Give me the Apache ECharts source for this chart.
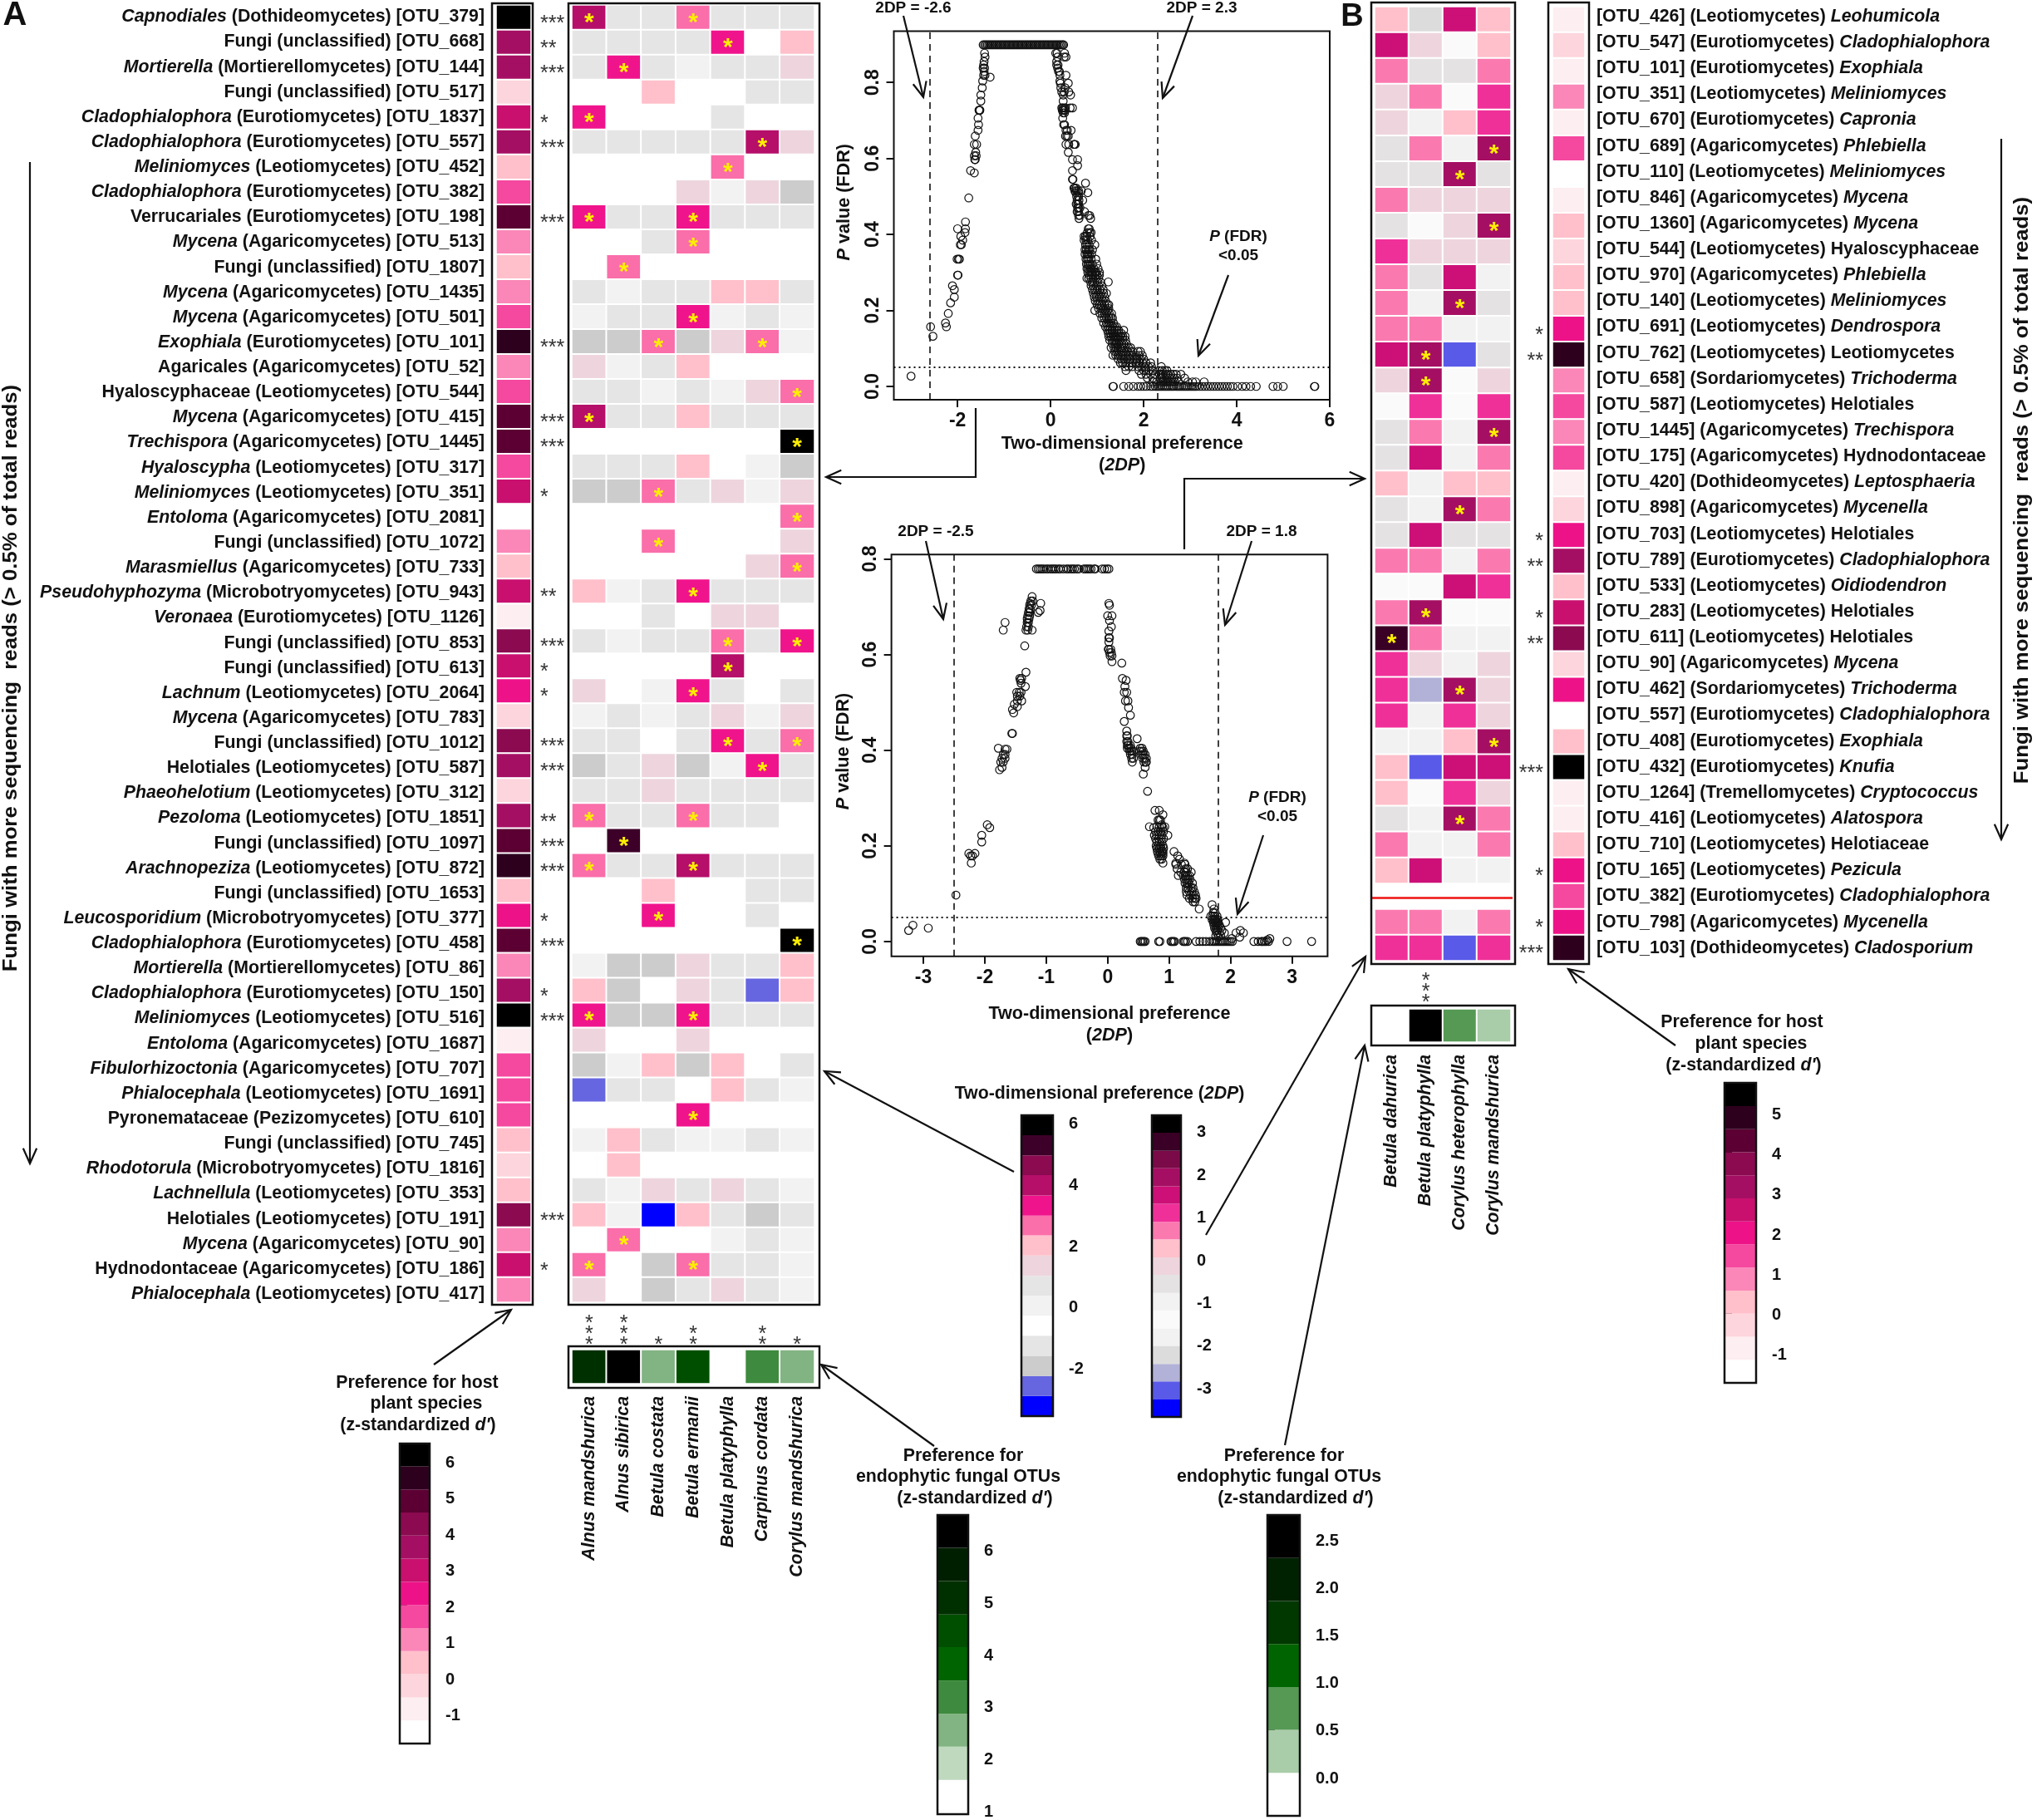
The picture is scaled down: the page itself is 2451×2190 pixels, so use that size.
<!DOCTYPE html>
<html>
<head>
<meta charset="utf-8">
<script src="https://cdn.jsdelivr.net/npm/echarts@6/dist/echarts.min.js"></script>
<style>html,body{margin:0;background:#fff}#chart{width:2451px;height:2190px}</style>
</head>
<body>
<div id="chart"></div>
<script>
// panel A: taxon, class, OTU, is the taxon italic, d' of the OTU, stars of d'
const taxaA = ['Capnodiales','Fungi','Mortierella','Fungi','Cladophialophora','Cladophialophora','Meliniomyces','Cladophialophora','Verrucariales','Mycena','Fungi','Mycena','Mycena','Exophiala','Agaricales','Hyaloscyphaceae','Mycena','Trechispora','Hyaloscypha','Meliniomyces','Entoloma','Fungi','Marasmiellus','Pseudohyphozyma','Veronaea','Fungi','Fungi','Lachnum','Mycena','Fungi','Helotiales','Phaeohelotium','Pezoloma','Fungi','Arachnopeziza','Fungi','Leucosporidium','Cladophialophora','Mortierella','Cladophialophora','Meliniomyces','Entoloma','Fibulorhizoctonia','Phialocephala','Pyronemataceae','Fungi','Rhodotorula','Lachnellula','Helotiales','Mycena','Hydnodontaceae','Phialocephala'];
const classA = ['Dothideomycetes','unclassified','Mortierellomycetes','unclassified','Eurotiomycetes','Eurotiomycetes','Leotiomycetes','Eurotiomycetes','Eurotiomycetes','Agaricomycetes','unclassified','Agaricomycetes','Agaricomycetes','Eurotiomycetes','Agaricomycetes','Leotiomycetes','Agaricomycetes','Agaricomycetes','Leotiomycetes','Leotiomycetes','Agaricomycetes','unclassified','Agaricomycetes','Microbotryomycetes','Eurotiomycetes','unclassified','unclassified','Leotiomycetes','Agaricomycetes','unclassified','Leotiomycetes','Leotiomycetes','Leotiomycetes','unclassified','Leotiomycetes','unclassified','Microbotryomycetes','Eurotiomycetes','Mortierellomycetes','Eurotiomycetes','Leotiomycetes','Agaricomycetes','Agaricomycetes','Leotiomycetes','Pezizomycetes','unclassified','Microbotryomycetes','Leotiomycetes','Leotiomycetes','Agaricomycetes','Agaricomycetes','Leotiomycetes'];
const otuA = [379,668,144,517,1837,557,452,382,198,513,1807,1435,501,101,52,544,415,1445,317,351,2081,1072,733,943,1126,853,613,2064,783,1012,587,312,1851,1097,872,1653,377,458,86,150,516,1687,707,1691,610,745,1816,353,191,90,186,417];
const italicTaxaA = ['Capnodiales','Mortierella','Cladophialophora','Meliniomyces','Mycena','Exophiala','Trechispora','Hyaloscypha','Entoloma','Marasmiellus','Pseudohyphozyma','Veronaea','Lachnum','Phaeohelotium','Pezoloma','Arachnopeziza','Leucosporidium','Fibulorhizoctonia','Phialocephala','Rhodotorula','Lachnellula'];
const hostA = [6.17,3.61,3.61,-.23,2.97,3.61,.41,1.69,4.89,1.05,.41,1.05,1.69,5.53,1.05,1.69,4.89,4.89,1.69,2.97,-1.5,1.05,.41,2.97,-.87,4.25,2.97,2.33,-.23,4.25,3.61,-.23,3.61,4.89,5.53,.41,2.33,4.89,1.05,3.61,6.17,-.87,1.69,1.69,1.69,.41,-.23,.41,4.25,1.05,2.97,1.05];
const hostStarsA = ['***','**','***','','*','***','','','***','','','','','***','','','***','***','','*','','','','**','','***','*','*','','***','***','','**','***','***','','*','***','','*','***','','','','','','','','***','','*',''];
const plantsA = ['Alnus mandshurica','Alnus sibirica','Betula costata','Betula ermanii','Betula platyphylla','Carpinus cordata','Corylus mandshurica'];
const heatA = [
  [3.9,.65,.65,2.6,.65,.65,.65],[.65,.65,.65,.65,3.3,-.65,2],[.65,3.3,.65,0,.65,.65,1.3],[-.65,-.65,2,-.65,-.65,.65,.65],
  [3.3,-.65,-.65,-.65,.65,-.65,-.65],[.65,.65,.65,.65,.65,3.9,1.3],[-.65,-.65,-.65,-.65,2.6,-.65,-.65],[-.65,-.65,-.65,1.3,0,1.3,-2],
  [3.3,.65,.65,3.3,.65,.65,.65],[-.65,-.65,.65,2.6,-.65,-.65,-.65],[-.65,2.6,-.65,-.65,-.65,-.65,-.65],[.65,0,.65,.65,2,2,.65],
  [0,.65,.65,3.3,0,.65,0],[-2,-2,2.6,-2,1.3,2.6,0],[1.3,0,.65,2,-.65,-.65,-.65],[.65,.65,0,.65,0,1.3,2.6],
  [3.9,.65,.65,2,.65,.65,.65],[-.65,-.65,-.65,-.65,-.65,-.65,5.9],[.65,.65,.65,2,-.65,0,-2],[-2,-2,2.6,.65,1.3,0,1.3],
  [-.65,-.65,-.65,-.65,-.65,-.65,2.6],[-.65,-.65,2.6,-.65,-.65,-.65,1.3],[-.65,-.65,-.65,-.65,-.65,1.3,2.6],[2,0,.65,3.3,.65,.65,.65],
  [-.65,-.65,.65,-.65,1.3,1.3,-.65],[.65,0,.65,.65,2.6,.65,3.3],[-.65,-.65,-.65,-.65,3.9,-.65,-.65],[1.3,-.65,0,3.3,.65,-.65,.65],
  [0,.65,0,.65,1.3,0,1.3],[.65,.65,-.65,.65,3.3,.65,2.6],[-2,.65,1.3,-2,0,3.3,.65],[.65,.65,1.3,.65,.65,.65,.65],
  [2.6,.65,.65,2.6,.65,.65,-.65],[-.65,5.25,-.65,-.65,-.65,-.65,-.65],[2.6,.65,.65,3.9,.65,.65,.65],[-.65,-.65,2,-.65,-.65,.65,.65],
  [-.65,-.65,3.3,-.65,-.65,.65,-.65],[-.65,-.65,-.65,-.65,-.65,-.65,5.9],[0,-2,-2,1.3,.65,.65,2],[2,-2,-.65,1.3,.65,-2.6,2],
  [3.3,-2,-2,3.3,.65,.65,.65],[1.3,-.65,-.65,1.3,-.65,-.65,-.65],[-2,0,2,-2,2,-.65,.65],[-2.6,.65,.65,-.65,2,.65,0],
  [-.65,-.65,-.65,3.3,-.65,-.65,-.65],[0,2,.65,0,0,.65,0],[-.65,2,-.65,-.65,-.65,-.65,-.65],[.65,0,1.3,.65,1.3,.65,0],
  [2,0,-3.3,2,.65,-2,.65],[-.65,2.6,-.65,-.65,0,.65,0],[2.6,-.65,-2,2.6,.65,.65,0],[1.3,-.65,-2,.65,1.3,.65,0]
];
// [row, column] of the yellow stars
const starCellsA = [[0,0],[0,3],[1,4],[2,1],[4,0],[5,5],[6,4],[8,0],[8,3],[9,3],[10,1],[12,3],[13,2],[13,5],[15,6],[16,0],[17,6],[19,2],[20,6],[21,2],[22,6],[23,3],[25,4],[25,6],[26,4],[27,3],[29,4],[29,6],[30,5],[32,0],[32,3],[33,1],[34,0],[34,3],[36,2],[37,6],[40,0],[40,3],[44,3],[49,1],[50,0],[50,3]];
const endoA = [5.07,6.34,2.52,4.44,1.25,3.16,2.52];
const endoStarsA = ['*\n*\n*','*\n*\n*','*','*\n*','','*\n*','*'];

// panel B
const otuB = [426,547,101,351,670,689,110,846,1360,544,970,140,691,762,658,587,1445,175,420,898,703,789,533,283,611,90,462,557,408,432,1264,416,710,165,382,798,103];
const classB = ['Leotiomycetes','Eurotiomycetes','Eurotiomycetes','Leotiomycetes','Eurotiomycetes','Agaricomycetes','Leotiomycetes','Agaricomycetes','Agaricomycetes','Leotiomycetes','Agaricomycetes','Leotiomycetes','Leotiomycetes','Leotiomycetes','Sordariomycetes','Leotiomycetes','Agaricomycetes','Agaricomycetes','Dothideomycetes','Agaricomycetes','Leotiomycetes','Eurotiomycetes','Leotiomycetes','Leotiomycetes','Leotiomycetes','Agaricomycetes','Sordariomycetes','Eurotiomycetes','Eurotiomycetes','Eurotiomycetes','Tremellomycetes','Leotiomycetes','Leotiomycetes','Leotiomycetes','Eurotiomycetes','Agaricomycetes','Dothideomycetes'];
const taxaB = ['Leohumicola','Cladophialophora','Exophiala','Meliniomyces','Capronia','Phlebiella','Meliniomyces','Mycena','Mycena','Hyaloscyphaceae','Phlebiella','Meliniomyces','Dendrospora','Leotiomycetes','Trichoderma','Helotiales','Trechispora','Hydnodontaceae','Leptosphaeria','Mycenella','Helotiales','Cladophialophora','Oidiodendron','Helotiales','Helotiales','Mycena','Trichoderma','Cladophialophora','Exophiala','Knufia','Cryptococcus','Alatospora','Helotiaceae','Pezicula','Cladophialophora','Mycenella','Cladosporium'];
const uprightTaxaB = ['Hyaloscyphaceae','Leotiomycetes','Helotiales','Hydnodontaceae','Helotiaceae'];
const hostB = [-.88,-.3,-.88,.85,-.88,1.42,-1.45,-.88,.27,-.3,.27,.27,2,4.87,.85,1.42,.85,1.42,-.88,-.3,2,3.15,.27,2.57,3.72,-.3,2,-1.45,.27,5.45,-.88,-.88,.27,2,1.42,2,4.87];
const hostStarsB = ['','','','','','','','','','','','','*','**','','','','','','','*','**','','*','**','','','','','***','','','','*','','*','***'];
const plantsB = ['Betula dahurica','Betula platyphylla','Corylus heterophylla','Corylus mandshurica'];
const heatB = [
  [.24,-2.25,1.49,.24],[1.49,-.17,-1.42,.24],[.66,-.59,-.59,.66],[-.17,.66,-1.42,1.07],[-.17,-1,.24,1.07],[-.59,.66,-1,1.9],
  [-.59,-.59,1.9,-.59],[.66,-.17,-.17,-.17],[-.59,-1.42,-.17,1.9],[1.07,-.17,-.17,-.17],[.66,-.59,1.49,-1],[.66,-1,1.9,-.59],
  [.66,.66,-1,-1],[1.49,1.9,-3.08,-.59],[-.17,1.9,-1.42,-.17],[-1.42,1.07,-1.42,1.07],[-.59,.66,-1,1.9],[-.59,1.49,-1,.66],
  [.24,-1,.24,.24],[-.59,-1,1.9,.66],[-.59,1.49,-.59,-.59],[.66,.66,-1,.66],[-1.42,-1.42,1.49,1.07],[.66,1.9,-1.42,-1.42],
  [2.73,.66,-1,-1],[1.07,-.17,-1,-.17],[1.07,-2.66,1.9,-.17],[1.07,-1,1.07,-.17],[-1,-1,.24,1.9],[.24,-3.08,1.49,1.49],
  [.24,-1.42,1.07,-.17],[-.59,-1,1.9,.66],[.66,-1,-1,.66],[.24,1.49,-1,-1],[null,null,null,null],[.66,.66,-1,.66],[1.07,1.07,-3.08,1.07]
];
const starCellsB = [[5,3],[6,2],[8,3],[11,2],[13,1],[14,1],[16,3],[19,2],[23,1],[24,0],[26,2],[28,3],[31,2]];
const endoB = [-.19,2.52,.71,.26];
const endoStarsB = ['','*\n*\n*','',''];

// colour keys, low to high
const host2Breaks = [-1.83,-1.19,-.55,.09,.73,1.37,2.01,2.65,3.29,3.93,4.57,5.21,5.85,6.48];
const hostColors = ['#ffffff','#fdeef1','#fdd5dd','#ffc0cb','#fa87b7','#f5489f','#ee1289','#c9106f','#a50f63','#8b0a50','#5c0033','#2d001e','#000000'];
const hostBBreaks = [-1.74,-1.165,-.59,-.015,.56,1.135,1.71,2.285,2.86,3.435,4.01,4.585,5.16,5.74];
const dpABreaks = [-3.61,-2.95,-2.3,-1.64,-.98,-.33,.33,.98,1.64,2.3,2.95,3.61,4.27,4.92,5.58,6.23];
const dpAColors = ['#0000ff','#6666e0','#cccccc','#e5e5e5','#ffffff','#f2f2f2','#e5e5e5','#eed5dd','#ffc0cb','#fa6eaa','#f0148c','#b50f69','#8b0a50','#3d0028','#000000'];
const dpBBreaks = [-3.7,-3.29,-2.87,-2.46,-2.04,-1.63,-1.21,-.8,-.38,.03,.45,.86,1.28,1.69,2.11,2.52,2.94,3.35];
const dpBColors = ['#0000ff','#5a5ae8','#b2b2d8','#dcdcdc','#f2f2f2','#fafafa','#f2f2f2','#e5e2e4','#eed5dd','#ffc0cb','#fa7ab0','#f03099','#cc1077','#a50f63','#7b0a48','#3a0026','#000000'];
const greenABreaks = [.93,1.57,2.21,2.84,3.48,4.12,4.75,5.39,6.03,6.66];
const greenAColors = ['#ffffff','#bfd9bf','#82b382','#3e8a3e','#006400','#004f00','#003000','#001f00','#000000'];
const greenBBreaks = [-.415,.037,.489,.941,1.393,1.845,2.297,2.75];
const greenBColors = ['#ffffff','#a9cca9','#559955','#006400','#003800','#002200','#000000'];

// volcano plot 1: rows of [P value, 2DP values]
const volcano1Cut = [-2.6,2.3];
const volcano1 = [
  [.899,[-1.45,-1.42,-1.39,-1.36,-1.33,-1.3,-1.27,-1.24,-1.21,-1.18,-1.15,-1.12,-1.09,-1.06,-1.03,-1,-.97,-.94,-.91,-.88,-.85,-.82,-.79,-.76,-.73,-.7,-.67,-.64,-.61,-.58,-.55,-.52,-.49,-.46,-.43,-.4,-.37,-.34,-.31,-.28,-.25,-.22,-.19,-.16,-.13,-.1,-.07,-.04,-.01,.02,.05,.08,.11,.14,.17,.2,.23,.26,.28]],
  [.877,[-1.42,.11,.14,.3]],[.867,[-1.41,.15,.29,.33]],[.855,[-1.43,.13]],[.846,[-1.44,.13,.16]],[.838,[-1.45,-1.42,.15]],[.829,[-1.43,.17,.19]],
  [.819,[-1.44,-1.41,.2,.33]],[.814,[-1.3]],[.804,[-1.46,.2]],[.798,[.21,.38]],[.786,[-1.47,.22,.31]],[.775,[.24,.29,.39]],[.767,[-1.5,.27,.43]],[.751,[-1.5,.27]],
  [.733,[.24,.26,.29,.32,.42,.47]],[.727,[-1.54,-1.53,-1.52,.25,.28,.31]],[.72,[.27,.3]],[.706,[-1.56,.26]],[.689,[-1.55,.28,.3]],[.674,[-1.56,.33,.36,.44]],
  [.659,[-1.62,.32,.35,.38]],[.637,[-1.64,-1.59,.33,.39,.5,.51,.53]],[.616,[-1.61,.38]],[.607,[-1.64,-1.6]],[.597,[-1.63,-1.62,.47,.58]],[.581,[.58]],[.568,[-1.72,.47]],
  [.562,[-1.64]],[.545,[.47,.48]],[.535,[.75]],[.522,[.5,.52,.55]],[.515,[.52,.56,.6,.66]],[.51,[.54,.6,.8]],[.5,[.56,.6]],[.496,[-1.76]],[.49,[.57,.61,.69]],[.48,[.55,.58,.6]],
  [.47,[.58,.6,.63]],[.46,[.57,.6,.73]],[.45,[.6,.63,.81,.84]],[.442,[.61,.86]],[.433,[-1.83]],[.415,[-2,-1.83,.81,.83]],[.405,[-1.84,.79,.84,.87]],[.395,[-1.93,.72,.75,.78,.85]],
  [.385,[-1.89,.72,.76,.8,.88]],[.373,[-1.94,-1.92,.75,.78,.83,.95]],[.36,[.74,.77,.81,.84,.9]],[.348,[.74,.78,.8,.83,.88]],[.335,[-2.01,-1.98,-1.96,.76,.79,.82,.87,.97]],
  [.322,[.77,.8,.83,.86,.9,.99]],[.31,[.78,.81,.85,.88,.93,1.02]],[.3,[.8,.84,.87,.9,.95,.98,1.05]],[.293,[-2,-1.99,.83,.9,.96,1,1.05]],[.285,[.78,.82,.87,.91,.97,1.03]],
  [.275,[.86,.9,.94,1,1.07,1.24]],[.265,[-2.11,.87,.92,.98,1.03,1.1]],[.255,[-2.07,.9,.95,1,1.06,1.13]],[.245,[.92,.97,1.02,1.08,1.14,1.2]],[.235,[-2.07,.94,.99,1.04,1.1,1.16]],
  [.225,[.96,1.01,1.06,1.12,1.18]],[.22,[-2.15]],[.215,[1,1.05,1.1,1.16,1.22,1.25]],[.205,[1.03,1.08,1.13,1.19,1.25]],[.2,[.95,1.17,1.23]],[.192,[-2.2,1.06,1.11,1.16,1.2,1.26,1.31]],
  [.18,[1.1,1.15,1.2,1.25,1.3,1.33]],[.167,[-2.26,1.14,1.2,1.25,1.3,1.35]],[.157,[-2.58,-2.24,1.18,1.23,1.28,1.33,1.38,1.42]],[.148,[1.22,1.27,1.32,1.37,1.42,1.46,1.57]],
  [.14,[1.24,1.28,1.33,1.37,1.42,1.47,1.52]],[.132,[-2.53,1.25,1.3,1.35,1.39,1.44,1.5,1.55,1.6]],[.122,[1.27,1.32,1.36,1.4,1.45,1.5,1.55,1.61]],[.112,[1.33,1.38,1.42,1.46,1.52,1.57,1.63]],
  [.102,[1.3,1.36,1.4,1.44,1.49,1.54,1.6,1.67,1.72]],[.092,[1.38,1.43,1.47,1.52,1.58,1.65,1.72,1.77,1.88,1.93]],[.082,[1.34,1.4,1.45,1.5,1.55,1.62,1.7,1.76,1.83,1.9,1.97]],
  [.072,[1.45,1.52,1.58,1.65,1.72,1.8,1.86,1.93,2]],[.062,[1.5,1.55,1.62,1.7,1.76,1.84,1.91,1.98,2.05,2.15]],[.052,[1.6,1.68,1.75,1.88,1.95,2.02,2.1,2.17,2.38]],
  [.042,[1.62,1.9,2,2.05,2.12,2.2,2.33,2.4,2.45,2.5]],[.032,[1.95,2.05,2.15,2.25,2.34,2.38,2.42,2.48,2.52,2.58,2.64,2.7,2.8]],[.027,[-3]],
  [.022,[2.08,2.2,2.36,2.4,2.45,2.5,2.55,2.6,2.65,2.72,2.88]],[.012,[2.2,2.28,2.38,2.42,2.47,2.52,2.57,2.62,2.67,2.75,2.95,3.05,3.12,3.3]],
  [0,[1.34,1.35,1.57,1.68,1.78,1.88,1.94,2,2.06,2.15,2.2,2.25,2.29,2.33,2.37,2.41,2.45,2.49,2.53,2.57,2.61,2.65,2.7,2.74,2.78,2.82,2.86,2.9,2.94,2.98,3.02,3.06,3.1,3.14,3.2,3.26,3.32,3.38,3.44,3.5,3.56,3.62,3.68,3.74,3.8,3.86,3.92,4.02,4.12,4.2,4.3,4.42,4.78,4.88,5,5.67,5.68]]
];

// volcano plot 2
const volcano2Cut = [-2.5,1.8];
const volcano2 = [
  [.779,[-1.16,-1.13,-1.1,-1.07,-1.04,-1,-.97,-.93,-.9,-.87,-.84,-.8,-.77,-.72,-.67,-.64,-.6,-.57,-.54,-.5,-.47,-.39,-.36,-.33,-.3,-.27,-.22,-.2,-.09,-.05,-.01,.02]],
  [.721,[-1.23]],[.712,[-1.25,-1.22]],[.707,[-1.09,-1.26,.02]],[.703,[-1.24,-1.27,.03]],[.695,[-1.26,-1.28]],[.692,[-1.1]],[.688,[-1.13,-1.27,-1.29]],[.681,[-1.3,-1.27,0,.07]],
  [.675,[-1.31,-1.28]],[.671,[.03]],[.667,[-1.67,-1.31,-1.29]],[.658,[-1.32,-1.29,.06]],[.651,[-1.7,-1.33,-1.23,-1.3]],[.649,[.02]],[.635,[.03,.02]],[.626,[.02]],[.618,[-1.35]],
  [.611,[.02,.05,.01]],[.604,[.03,.06]],[.597,[.07,.04]],[.585,[.07]],[.582,[.23]],[.563,[-1.33]],[.55,[-1.43,-1.4,.24]],[.546,[-1.42,.3]],[.54,[-1.41]],[.533,[-1.34,.28]],[.521,[-1.48,-1.44,-1.41,.27,.31]],
  [.513,[-1.47,-1.43]],[.503,[-1.47,-1.4,.29,.33]],[.496,[-1.52]],[.491,[-1.47]],[.489,[.34]],[.485,[-1.55]],[.478,[-1.53]],[.473,[.37]],[.46,[.27]],[.44,[.31]],[.435,[-1.56,-1.55]],[.43,[.31,.32]],[.424,[.48]],
  [.418,[.31,.33]],[.41,[.32,.34,.37]],[.404,[-1.78,.32,.35,.38,.53,.56]],[.402,[-1.64,-1.67]],[.398,[.36,.39,.42,.52,.55,.58]],[.391,[-1.7,-1.67,.37,.4,.55,.58,.61]],
  [.383,[-1.67,-1.72,.39,.42,.57,.6,.63]],[.375,[-1.74,-1.7,.4,.59,.62,.63]],[.364,[-1.72,.61]],[.359,[-1.76]],[.35,[.58]],[.314,[.65]],[.274,[.77,.84]],[.265,[.9]],[.254,[.84,.86,.82]],[.244,[-1.96,.88]],
  [.24,[.68,.8,.84,.88,.93]],[.238,[-1.92,.75,.9]],[.23,[.78,.82,.86,.91]],[.222,[-2.05,.76,.8,.84,.88,.98]],[.215,[.78,.83,.87,.91]],[.208,[-2.05,.8,.84,.88]],[.2,[.79,.82,.86,.9]],[.195,[.8,.84,.87,.91]],
  [.188,[.81,.85,.88,.9,1.08]],[.184,[-2.16,-2.26,.82,.86,.9]],[.179,[-2.23,-2.2,.83,.87,.9,1.14]],[.172,[.85,.88,1.17]],[.164,[-2.22,.9,1.11,1.25]],[.161,[1.11,1.2,1.26]],[.152,[1.13,1.27,1.3]],[.145,[1.19,1.25,1.28,1.36]],
  [.138,[1.15,1.23,1.27,1.3,1.33]],[.13,[1.25,1.28,1.31,1.34]],[.122,[1.26,1.29,1.32,1.38]],[.112,[1.28,1.31,1.36,1.39]],[.104,[1.28,1.33,1.37,1.41]],[.097,[-2.47,1.29,1.35,1.39,1.43]],[.09,[1.33,1.38,1.42,1.44]],
  [.083,[1.39,1.42]],[.077,[1.7]],[.068,[1.49,1.73]],[.06,[1.72,1.75]],[.053,[1.68,1.71,1.74,1.78]],[.046,[1.7,1.73,1.76,1.79]],[.04,[1.72,1.75,1.78,1.8,1.92]],[.034,[-3.17,1.73,1.76,1.79,1.82]],[.028,[-2.92,1.74,1.77,1.8,1.84]],
  [.023,[-3.24,1.76,1.79,1.86,2.16]],[.018,[1.78,1.82,1.9,2.09,2.21]],[.012,[1.76,1.84]],[.009,[1.8,2.15]],[.006,[2.02,2.64]],[.003,[2.6]],
  [0,[.53,.55,.57,.59,.61,.83,.85,1.03,1.05,1.07,1.09,1.23,1.25,1.27,1.3,1.44,1.5,1.55,1.6,1.66,1.7,1.73,1.76,1.79,1.82,1.85,1.88,1.91,1.94,1.97,2,2.03,2.38,2.45,2.5,2.52,2.55,2.58,2.62,2.92,3.32]]
];
const fdrCut = .05;

const FONT = 'Liberation Sans';
const LABEL_SIZE = 21.3, NOTE_SIZE = 21.3, STAR_SIZE = 25;
const grids = [], xAxes = [], yAxes = [], series = [], visualMaps = [], graphics = [];

const flatten = rows => rows.flatMap(([p, xs]) => xs.map(x => [x, p]));
const piecesOf = (breaks, colors) => colors.map((c, i) => ({ gte: breaks[i], lt: breaks[i + 1], color: c }));
const hiddenAxis = (gridIndex, data) => ({ type: 'category', gridIndex, data, axisLine: { show: false }, axisTick: { show: false }, axisLabel: { show: false } });
const richStyle = size => ({
  i: { fontFamily: FONT, fontWeight: 'bold', fontStyle: 'italic', fontSize: size, color: '#111' },
  r: { fontFamily: FONT, fontWeight: 'bold', fontSize: size, color: '#111' }
});

function text(x, y, str, size, extra) {
  graphics.push(Object.assign({
    type: 'text', x, y, z: 100, silent: true,
    style: { text: str, rich: richStyle(size), font: 'bold ' + size + 'px "' + FONT + '"', fill: '#111', align: 'center', verticalAlign: 'middle' }
  }, extra));
}
function box(x0, y0, x1, y1) {
  graphics.push({ type: 'rect', z: 90, silent: true, shape: { x: x0, y: y0, width: x1 - x0, height: y1 - y0 }, style: { fill: 'none', stroke: '#111', lineWidth: 2.5 } });
}
function arrow(points, head) {
  const size = head || 20, n = points.length, [x1, y1] = points[n - 2], [x2, y2] = points[n - 1];
  const a = Math.atan2(y2 - y1, x2 - x1), s = .42;
  graphics.push({ type: 'polyline', z: 95, silent: true, shape: { points }, style: { stroke: '#111', lineWidth: 2.2, fill: 'none' } });
  graphics.push({ type: 'polyline', z: 95, silent: true, shape: { points: [
    [x2 - size * Math.cos(a - s), y2 - size * Math.sin(a - s)], [x2, y2], [x2 - size * Math.cos(a + s), y2 - size * Math.sin(a + s)]
  ] }, style: { stroke: '#111', lineWidth: 2.2, fill: 'none' } });
}

// one block of coloured cells in its own grid
function addHeat(g, cols, rows, values, pieces, stars) {
  const gi = grids.length;
  grids.push(g);
  xAxes.push(hiddenAxis(gi, cols));
  yAxes.push(Object.assign(hiddenAxis(gi, rows), { inverse: true }));
  const xi = xAxes.length - 1, yi = yAxes.length - 1;
  const data = [];
  values.forEach((row, r) => row.forEach((v, c) => {
    if (v !== null) data.push([c, r, v, stars && stars.some(s => s[0] === r && s[1] === c) ? 1 : 0]);
  }));
  visualMaps.push({ type: 'piecewise', show: false, seriesIndex: series.length, dimension: 2, pieces });
  series.push({
    type: 'heatmap', xAxisIndex: xi, yAxisIndex: yi, data, silent: true,
    itemStyle: { borderColor: '#fff', borderWidth: 2 },
    label: { show: !!stars, formatter: p => (p.data[3] ? '*' : ''), color: '#ffee00', fontFamily: FONT, fontWeight: 'bold', fontSize: 30, offset: [0, 7] }
  });
  return { gi, xi, yi };
}

// text rows have a slightly different pitch from the cells, so they get an empty grid of their own
function addRowLabels(g, rows, position, formatter) {
  const gi = grids.length;
  grids.push(g);
  xAxes.push({ type: 'value', gridIndex: gi, show: false, min: 0, max: 1 });
  yAxes.push({
    type: 'category', gridIndex: gi, data: rows, inverse: true, position, axisLine: { show: false }, axisTick: { show: false },
    axisLabel: { show: true, interval: 0, margin: 14, fontFamily: FONT, fontSize: LABEL_SIZE, rich: richStyle(LABEL_SIZE), formatter }
  });
}

function starAxis(gridIndex, rows, position, stars) {
  yAxes.push({
    type: 'category', gridIndex, data: rows, inverse: true, position, axisLine: { show: false }, axisTick: { show: false },
    axisLabel: { interval: 0, margin: 11, color: '#333', fontFamily: FONT, fontSize: STAR_SIZE, verticalAlign: 'top', lineHeight: 16, formatter: (v, i) => stars[i] }
  });
}

function plantAxes(bar, plants, stars, starMargin) {
  xAxes[bar.xi].axisLabel = { show: true, interval: 0, rotate: 90, margin: 15, fontFamily: FONT, fontWeight: 'bold', fontStyle: 'italic', fontSize: 21.3, color: '#111' };
  xAxes.push({
    type: 'category', gridIndex: bar.gi, data: plants, position: 'top', axisLine: { show: false }, axisTick: { show: false },
    axisLabel: { interval: 0, margin: starMargin, color: '#333', fontFamily: FONT, fontSize: STAR_SIZE, lineHeight: 13, formatter: (v, i) => stars[i] }
  });
}

// colour key with a numeric axis
function addKey(x0, y0, x1, y1, breaks, colors, ticks, labelFmt) {
  const gi = grids.length;
  grids.push({ left: x0, top: y0, width: x1 - x0, height: y1 - y0 });
  xAxes.push({ type: 'value', gridIndex: gi, min: 0, max: 1, show: false });
  yAxes.push({
    type: 'value', gridIndex: gi, position: 'right', min: breaks[0], max: breaks[breaks.length - 1], splitLine: { show: false },
    axisLine: { show: false },
    axisTick: { show: true, length: 9, customValues: ticks, lineStyle: { color: '#111', width: 2 } },
    axisLabel: { customValues: ticks, margin: 19, verticalAlign: 'top', lineHeight: 5, fontFamily: FONT, fontWeight: 'bold', fontSize: 20, color: '#111', formatter: labelFmt || (v => String(v)) }
  });
  series.push({
    type: 'custom', xAxisIndex: xAxes.length - 1, yAxisIndex: yAxes.length - 1, silent: true, clip: false,
    encode: { x: 2, y: [0, 1] },
    data: colors.map((c, i) => [breaks[i], breaks[i + 1], i]),
    renderItem: (params, api) => {
      const lo = api.coord([0, api.value(0)]), hi = api.coord([0, api.value(1)]), cs = params.coordSys;
      return { type: 'rect', shape: { x: cs.x, y: hi[1], width: cs.width, height: lo[1] - hi[1] }, style: { fill: colors[api.value(2)] } };
    }
  });
  box(x0, y0, x1, y1);
}

function addVolcano(g, rows, xMin, xMax, yMin, yMax, xTicks, cuts, name) {
  const gi = grids.length;
  grids.push(Object.assign({ show: true, borderColor: '#111', borderWidth: 2, backgroundColor: 'transparent' }, g));
  const tickLabel = { fontFamily: FONT, fontWeight: 'bold', fontSize: 23, color: '#111' };
  const italic = { fontStyle: 'italic', fontFamily: FONT, fontWeight: 'bold', fontSize: 21.6, color: '#111' };
  xAxes.push({
    type: 'value', gridIndex: gi, min: xMin, max: xMax, splitLine: { show: false }, axisLine: { show: false, onZero: false },
    axisTick: { show: true, length: 9, customValues: xTicks, lineStyle: { color: '#111', width: 2 } },
    axisLabel: Object.assign({ customValues: xTicks, margin: 14 }, tickLabel),
    name: 'Two-dimensional preference\n({i|2DP})', nameLocation: 'middle', nameGap: name.gapX,
    nameTextStyle: { fontFamily: FONT, fontWeight: 'bold', fontSize: 21.6, color: '#111', lineHeight: 26, padding: [0, 0, 0, name.padX], rich: { i: italic } }
  });
  const yTicks = [0, .2, .4, .6, .8];
  yAxes.push({
    type: 'value', gridIndex: gi, min: yMin, max: yMax, splitLine: { show: false }, axisLine: { show: false, onZero: false },
    axisTick: { show: true, length: 9, customValues: yTicks, lineStyle: { color: '#111', width: 2 } },
    axisLabel: Object.assign({ customValues: yTicks, margin: 13, rotate: 90, formatter: v => v.toFixed(1) }, tickLabel),
    name: '{i|P} value (FDR)', nameLocation: 'middle', nameGap: name.gapY,
    nameTextStyle: { fontFamily: FONT, fontWeight: 'bold', fontSize: 21.6, color: '#111', padding: [0, 0, 0, name.padY], rich: { i: italic } }
  });
  series.push({
    type: 'scatter', xAxisIndex: xAxes.length - 1, yAxisIndex: yAxes.length - 1, silent: true,
    data: flatten(rows), symbol: 'circle', symbolSize: 9.5,
    itemStyle: { color: 'rgba(0,0,0,0)', borderColor: '#111', borderWidth: 1.2, opacity: 1 },
    markLine: {
      silent: true, symbol: 'none', animation: false, label: { show: false },
      data: [
        { xAxis: cuts[0], lineStyle: { type: [8, 6], color: '#111', width: 1.6 } },
        { xAxis: cuts[1], lineStyle: { type: [8, 6], color: '#111', width: 1.6 } },
        { yAxis: fdrCut, lineStyle: { type: [2, 4], color: '#111', width: 1.8 } }
      ]
    }
  });
}

// ---- panel A
const rowsA = otuA.map(String);
const sideA = addHeat({ left: 597, top: 6, width: 42, height: 1561 }, ['d'], rowsA, hostA.map(v => [v]), piecesOf(host2Breaks, hostColors));
starAxis(sideA.gi, rowsA, 'right', hostStarsA);
addRowLabels({ left: 597, top: 5.3, width: 42, height: 1566.8 }, rowsA, 'left',
  (v, i) => (italicTaxaA.includes(taxaA[i]) ? '{i|' : '{r|') + taxaA[i] + '}{r| (' + classA[i] + ') [OTU_' + otuA[i] + ']}');
box(592, 4, 641, 1570);

addHeat({ left: 688, top: 6, width: 292, height: 1561 }, plantsA, rowsA, heatA, piecesOf(dpABreaks, dpAColors), starCellsA);
box(684, 4, 986, 1570);

const barA = addHeat({ left: 688, top: 1624, width: 292, height: 41 }, plantsA, ['d'], [endoA], piecesOf(greenABreaks, greenAColors));
plantAxes(barA, plantsA, endoStarsA, -2);
box(684, 1620, 986, 1670);

// ---- panel B
const rowsB = otuB.map(String);
addHeat({ left: 1654, top: 8, width: 164, height: 1148 }, plantsB, rowsB, heatB, piecesOf(dpBBreaks, dpBColors), starCellsB);
graphics.push({ type: 'line', z: 80, silent: true, shape: { x1: 1651, y1: 1080.5, x2: 1820, y2: 1080.5 }, style: { stroke: '#ee1111', lineWidth: 2.5 } });
box(1650, 3, 1823, 1160);

const sideB = addHeat({ left: 1868, top: 8, width: 39, height: 1148 }, ['d'], rowsB, hostB.map(v => [v]), piecesOf(hostBBreaks, hostColors));
starAxis(sideB.gi, rowsB, 'left', hostStarsB);
addRowLabels({ left: 1868, top: 4.4, width: 39, height: 1152 }, rowsB, 'right',
  (v, i) => '{r|[OTU_' + otuB[i] + '] (' + classB[i] + ') }' + (uprightTaxaB.includes(taxaB[i]) ? '{r|' : '{i|') + taxaB[i] + '}');
box(1863, 3, 1912, 1160);

const barB = addHeat({ left: 1654, top: 1214, width: 164, height: 40 }, plantsB, ['d'], [endoB], piecesOf(greenBBreaks, greenBColors));
plantAxes(barB, plantsB, endoStarsB, 0);
box(1650, 1210, 1823, 1258);

// ---- volcano plots
addVolcano({ left: 1075.5, top: 37.5, width: 524.5, height: 443.5 }, volcano1, -3.37, 6, -.035, .935, [-2, 0, 2, 4, 6], volcano1Cut, { gapX: 40, gapY: 48, padX: 25, padY: 32 });
addVolcano({ left: 1072.6, top: 667.3, width: 524.8, height: 483.4 }, volcano2, -3.52, 3.58, -.031, .809, [-3, -2, -1, 0, 1, 2, 3], volcano2Cut, { gapX: 56, gapY: 47, padX: 0, padY: 10 });

// ---- colour keys
addKey(481, 1737, 517, 2098, host2Breaks, hostColors, [-1, 0, 1, 2, 3, 4, 5, 6]);
addKey(1128, 1823, 1165, 2183, greenABreaks, greenAColors, [1, 2, 3, 4, 5, 6]);
addKey(1229, 1342, 1267, 1704, dpABreaks, dpAColors, [-2, 0, 2, 4, 6]);
addKey(1386, 1342, 1421, 1705, dpBBreaks, dpBColors, [-3, -2, -1, 0, 1, 2, 3]);
addKey(1525, 1823, 1564, 2185, greenBBreaks, greenBColors, [0, .5, 1, 1.5, 2, 2.5], v => v.toFixed(1));
addKey(2075, 1303, 2113, 1664, hostBBreaks, hostColors, [-1, 0, 1, 2, 3, 4, 5]);

// ---- annotations
text(18, 19, 'A', 40);
text(1627, 21, 'B', 38);
const sideTitle = 'Fungi with more sequencing  reads (> 0.5% of total reads)';
text(14, 816, sideTitle, 23, { rotation: Math.PI / 2, scaleX: 1.12 });
text(2434, 590, sideTitle, 23, { rotation: Math.PI / 2, scaleX: 1.12 });
arrow([[36, 195], [36, 1400]]);
arrow([[2408, 167], [2408, 1010]]);

text(1099, 10, '2DP = -2.6', 19);
text(1446, 10, '2DP = 2.3', 19);
arrow([[1087, 19], [1111, 117]]);
arrow([[1435, 19], [1399, 118]]);
text(1490, 285, '{i|P}{r| (FDR)}', 19);
text(1490, 308, '<0.05', 19);
arrow([[1478, 331], [1442, 428]]);
arrow([[1174, 491], [1174, 574], [994, 574]]);
arrow([[1425, 661], [1425, 576], [1642, 576]]);

text(1126, 640, '2DP = -2.5', 19);
text(1518, 640, '2DP = 1.8', 19);
arrow([[1114, 651], [1135, 745]]);
arrow([[1506, 651], [1474, 752]]);
text(1537, 960, '{i|P}{r| (FDR)}', 19);
text(1537, 983, '<0.05', 19);
arrow([[1520, 1005], [1489, 1100]]);

text(1323, 1316, '{r|Two-dimensional preference (}{i|2DP}{r|)}', NOTE_SIZE);
arrow([[1220, 1410], [992, 1289]]);
arrow([[1451, 1486], [1643, 1151]]);

const dPrime = "{r|(z-standardized }{i|d'}{r|)}";
text(502, 1664, 'Preference for host', NOTE_SIZE);
text(513, 1689, 'plant species', NOTE_SIZE);
text(503, 1715, dPrime, NOTE_SIZE);
arrow([[522, 1642], [615, 1576]]);

text(1159, 1752, 'Preference for', NOTE_SIZE);
text(1153, 1777, 'endophytic fungal OTUs', NOTE_SIZE);
text(1173, 1803, dPrime, NOTE_SIZE);
arrow([[1124, 1740], [988, 1642]]);

text(1545, 1752, 'Preference for', NOTE_SIZE);
text(1539, 1777, 'endophytic fungal OTUs', NOTE_SIZE);
text(1559, 1803, dPrime, NOTE_SIZE);
arrow([[1546, 1739], [1642, 1258]]);

text(2096, 1230, 'Preference for host', NOTE_SIZE);
text(2107, 1256, 'plant species', NOTE_SIZE);
text(2098, 1282, dPrime, NOTE_SIZE);
arrow([[2016, 1258], [1887, 1166]]);

const chart = echarts.init(document.getElementById('chart'));
chart.setOption({
  animation: false,
  backgroundColor: '#fff',
  textStyle: { fontFamily: FONT },
  grid: grids,
  xAxis: xAxes,
  yAxis: yAxes,
  visualMap: visualMaps,
  series,
  graphic: { elements: graphics }
});
</script>
</body>
</html>
